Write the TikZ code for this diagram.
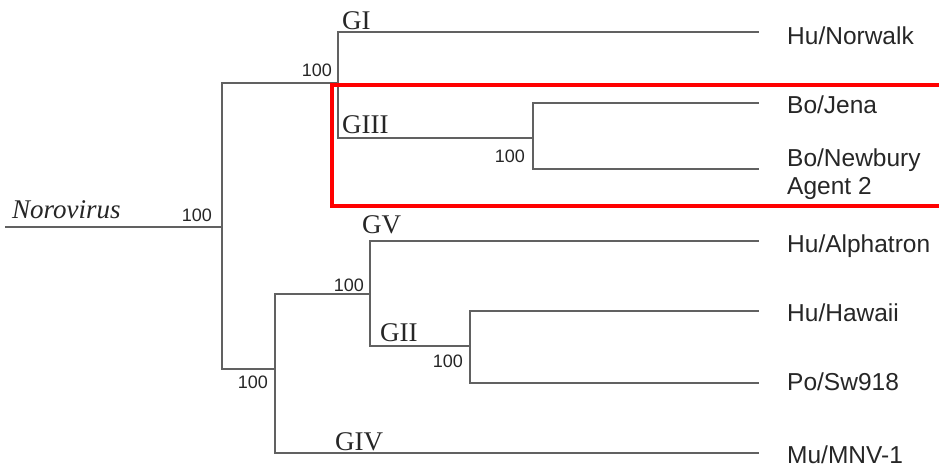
\documentclass[tikz,border=0pt]{standalone}
\usepackage{fontspec}
\setmainfont{Liberation Serif}
\setsansfont{Liberation Sans}
\usetikzlibrary{positioning}

\begin{document}
\begin{tikzpicture}[
    x=1pt, y=-1pt,
    branch/.style={draw=black!62, line width=2pt},
    leaf/.style={anchor=base west, inner sep=0pt, text=black!85, font=\sffamily\fontsize{24.5}{28}\selectfont},
    boot/.style={inner sep=0pt, text=black!85, font=\sffamily\fontsize{18}{20}\selectfont},
    clade/.style={anchor=base west, inner sep=0pt, text=black!85, font=\fontsize{27}{30}\selectfont},
    frame/.style={draw=red, line width=4pt}
]
    \useasboundingbox (0,0) rectangle (939,469);

    % Internal nodes
    \coordinate (root) at (5,227);
    \coordinate (n0) at (222,227);
    \coordinate (n1) at (338,83);
    \coordinate (n2) at (275,369);
    \coordinate (n3) at (533,138);
    \coordinate (n4) at (370,294);
    \coordinate (n5) at (470,346);

    % Tips
    \coordinate (tnorwalk) at (759,32);
    \coordinate (tjena) at (759,103);
    \coordinate (tnewbury) at (759,169);
    \coordinate (talphatron) at (759,241);
    \coordinate (thawaii) at (759,311);
    \coordinate (tsw) at (759,383);
    \coordinate (tmnv) at (759,453);

    % Leaf labels
    \node[leaf] (norwalk) at (787,44) {Hu/Norwalk};
    \node[leaf] (jena) at (787,113) {Bo/Jena};
    \node[leaf, anchor=west, align=left] (newbury) at (787,174) {Bo/Newbury\\Agent 2};
    \node[leaf] (alphatron) at (787,252) {Hu/Alphatron};
    \node[leaf] (hawaii) at (787,321) {Hu/Hawaii};
    \node[leaf] (sw) at (787,390) {Po/Sw918};
    \node[leaf] (mnv) at (787,463) {Mu/MNV-1};

    % Clade labels
    \node[clade, font=\itshape\fontsize{27}{30}\selectfont] (noro) at (12,218) {Norovirus};
    \node[clade] (gi) at (342,29) {GI};
    \node[clade] (giii) at (342,133) {GIII};
    \node[clade] (gv) at (362,233) {GV};
    \node[clade] (gii) at (380,341) {GII};
    \node[clade] (giv) at (335,450) {GIV};

    % Bootstrap values
    \node[boot, above left=5pt and 10pt of n0] (b0) {100};
    \node[boot, above left=6.5pt and 6pt of n1] (b1) {100};
    \node[boot, below left=6.5pt and 7pt of n2] (b2) {100};
    \node[boot, below left=11.5pt and 8pt of n3] (b3) {100};
    \node[boot, above left=2.5pt and 6pt of n4] (b4) {100};
    \node[boot, below left=8.5pt and 7pt of n5] (b5) {100};

    % Branches
    \draw[branch] (root) -- (n0);
    \draw[branch] (n0) |- (n1);
    \draw[branch] (n0) |- (n2);
    \draw[branch] (n1) |- (tnorwalk);
    \draw[branch] (n1) |- (n3);
    \draw[branch] (n3) |- (tjena);
    \draw[branch] (n3) |- (tnewbury);
    \draw[branch] (n2) |- (n4);
    \draw[branch] (n2) |- (tmnv);
    \draw[branch] (n4) |- (talphatron);
    \draw[branch] (n4) |- (n5);
    \draw[branch] (n5) |- (thawaii);
    \draw[branch] (n5) |- (tsw);

    % GIII highlight
    \draw[frame] (939,85) -- (332,85) -- (332,206) -- (939,206);
\end{tikzpicture}
\end{document}
